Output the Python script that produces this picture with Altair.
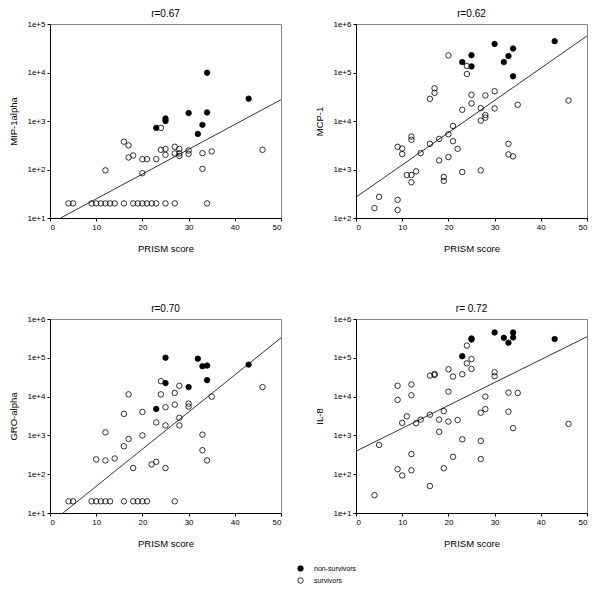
import altair as alt
import pandas as pd

FONT = "Liberation Sans"

# ---------------- MIP-1alpha ----------------
mip_s_x = [4, 5, 9, 10, 11, 12, 13, 14, 16, 18, 19, 20, 21, 22, 23, 25, 27, 34,
           12, 20, 16, 17, 17, 18, 20, 21, 23, 24, 25, 25, 27, 27, 28, 28, 28,
           30, 30, 33, 33, 35, 46, 24]
mip_s_y = [20, 20, 20, 20, 20, 20, 20, 20, 20, 20, 20, 20, 20, 20, 20, 20, 20, 20,
           96, 84, 375, 314, 177, 195, 163, 163, 163, 255, 265, 201, 295, 214, 265, 214, 190,
           247, 210, 218, 103, 236, 255, 721]
mip_n_x = [23, 25, 25, 30, 32, 33, 34, 34, 43]
mip_n_y = [721, 1127, 1000, 1455, 541, 832, 9900, 1500, 2890]
mip_fit_x = [2.3, 50]
mip_fit_y = [10, 2750]

# ---------------- MCP-1 ----------------
mcp_s_x = [4, 5, 9, 9, 9, 10, 10, 11, 12, 12, 12, 12, 13, 14, 16, 16, 17, 17,
           18, 18, 19, 19, 20, 20, 20, 21, 21, 22, 23, 23, 24, 24, 25, 25,
           27, 27, 27, 28, 28, 28, 30, 30, 33, 33, 34, 35, 46]
mcp_s_y = [160, 273, 237, 146, 2936, 2712, 2076, 771, 771, 546, 4775, 4083, 917, 2178,
           3380, 28640, 38000, 47400, 4276, 1541, 702, 582, 1803, 5333, 224900, 7900, 3837,
           2672, 17060, 889, 135900, 93100, 34600, 23000, 18450, 10170, 961, 33600, 13270,
           11700, 41100, 18150, 3380, 2046, 1862, 21600, 26500]
mcp_n_x = [23, 25, 25, 30, 32, 33, 34, 34, 43]
mcp_n_y = [164000, 228000, 133600, 389000, 164000, 217800, 312600, 83500, 441500]
mcp_fit_x = [0, 50]
mcp_fit_y = [269, 567600]

# ---------------- GRO-alpha ----------------
gro_s_x = [4, 5, 9, 10, 11, 12, 13, 16, 18, 19, 20, 21, 27,
           10, 12, 12, 14, 16, 16, 17, 17, 18, 20, 20, 22, 23, 23, 24, 24,
           25, 25, 25, 27, 27, 28, 28, 28, 30, 30, 33, 33, 34, 35, 46]
gro_s_y = [20, 20, 20, 20, 20, 20, 20, 20, 20, 20, 20, 20, 20,
           240, 1197, 226, 254, 525, 3590, 809, 11430, 144, 1000, 4036, 179, 209, 2157,
           25000, 11430, 5320, 1808, 144, 12360, 6220, 19000, 2840, 1808, 6600, 5530,
           1044, 415, 226, 9960, 17600]
gro_n_x = [23, 25, 25, 30, 32, 33, 34, 34, 43]
gro_n_y = [4820, 100700, 22300, 17600, 95000, 60500, 63000, 26500, 66700]
gro_fit_x = [2.8, 50]
gro_fit_y = [10, 326800]

# ---------------- IL-8 ----------------
il8_s_x = [4, 5, 9, 9, 9, 10, 10, 11, 12, 12, 12, 12, 13, 14, 16, 16, 16, 17, 17,
           18, 18, 19, 19, 20, 20, 20, 21, 21, 22, 23, 23, 24, 24, 25, 25,
           27, 27, 27, 28, 28, 30, 30, 33, 33, 34, 35, 46]
il8_s_y = [28.7, 568, 19050, 8230, 134, 2100, 92.5, 3100, 20600, 10820, 329, 126, 2060,
           2550, 3420, 34800, 49.5, 38400, 36000, 2550, 1240, 4240, 142, 50500, 13400, 2270,
           32900, 281, 2500, 37700, 791, 206000, 71800, 92500, 51500, 3840, 718, 245,
           10000, 4760, 42400, 33500, 12650, 4080, 1535, 12400, 1980]
il8_n_x = [23, 25, 25, 30, 32, 33, 34, 34, 43]
il8_n_y = [110000, 316000, 295000, 450000, 329000, 245000, 450000, 335000, 304000]
il8_fit_x = [0, 50]
il8_fit_y = [392, 348400]

x_ticks = [0, 10, 20, 30, 40, 50]
status_names = ["non-survivors", "survivors"]

W, H = 231, 194


def panel(title, ylab, ydom, yticks, sx, sy, nx, ny, fx, fy):
    pts = pd.DataFrame({
        "x": sx + nx,
        "y": sy + ny,
        "status": [status_names[1]] * len(sx) + [status_names[0]] * len(nx),
    })
    fit = pd.DataFrame({"x": fx, "y": fy})
    xs = alt.Scale(domain=[0, 50], nice=False, zero=False)
    ys = alt.Scale(type="log", domain=ydom, nice=False)
    xax = alt.Axis(title="PRISM score", values=x_ticks, grid=False)
    yax = alt.Axis(title=ylab, values=yticks, grid=False,
                   labelExpr="'1e+' + round(log(datum.value)/LN10)")
    line = alt.Chart(fit).mark_line(color="black", strokeWidth=0.8).encode(
        x=alt.X("x:Q", scale=xs, axis=xax),
        y=alt.Y("y:Q", scale=ys, axis=yax),
    )
    points = alt.Chart(pts).mark_point(
        shape="circle", filled=True, size=30, stroke="black",
        strokeWidth=0.8, opacity=1, fillOpacity=1
    ).encode(
        x=alt.X("x:Q", scale=xs, axis=xax),
        y=alt.Y("y:Q", scale=ys, axis=yax),
        fill=alt.Fill("status:N",
                      scale=alt.Scale(domain=status_names,
                                      range=["black", "rgba(0,0,0,0)"]),
                      legend=alt.Legend(title=None, orient="none",
                                        legendX=247, legendY=541,
                                        symbolType="circle", symbolSize=30,
                                        symbolStrokeColor="black",
                                        symbolStrokeWidth=0.8,
                                        labelFont=FONT, labelFontSize=7,
                                        rowPadding=3, labelOffset=10)),
    )
    return alt.layer(line, points).properties(
        width=W, height=H, title=alt.TitleParams(title)
    )


p1 = panel("r=0.67", "MIP-1alpha", [10, 1e5], [10, 100, 1000, 1e4, 1e5],
           mip_s_x, mip_s_y, mip_n_x, mip_n_y, mip_fit_x, mip_fit_y)
p2 = panel("r=0.62", "MCP-1", [100, 1e6], [100, 1000, 1e4, 1e5, 1e6],
           mcp_s_x, mcp_s_y, mcp_n_x, mcp_n_y, mcp_fit_x, mcp_fit_y)
p3 = panel("r=0.70", "GRO-alpha", [10, 1e6], [10, 100, 1000, 1e4, 1e5, 1e6],
           gro_s_x, gro_s_y, gro_n_x, gro_n_y, gro_fit_x, gro_fit_y)
p4 = panel("r= 0.72", "IL-8", [10, 1e6], [10, 100, 1000, 1e4, 1e5, 1e6],
           il8_s_x, il8_s_y, il8_n_x, il8_n_y, il8_fit_x, il8_fit_y)

chart = alt.vconcat(
    alt.hconcat(p1, p2, spacing=30),
    alt.hconcat(p3, p4, spacing=30),
    spacing=50,
).properties(
    padding={"left": 0, "top": 0, "right": 0, "bottom": 0}
).configure_view(
    stroke="#888888", strokeWidth=1
).configure_axis(
    domainColor="black", domainWidth=1, tickColor="black", tickSize=3,
    labelFont=FONT, labelFontSize=8, labelColor="black", labelPadding=2,
    titleFont=FONT, titleFontSize=9.5, titleFontWeight="normal", titleColor="black",
).configure_axisX(titlePadding=12).configure_axisY(titlePadding=8).configure_title(
    font=FONT, fontSize=10, fontWeight="normal", color="black", offset=1
)

chart.save("out.html", embed_options={"renderer": "svg", "actions": False})
